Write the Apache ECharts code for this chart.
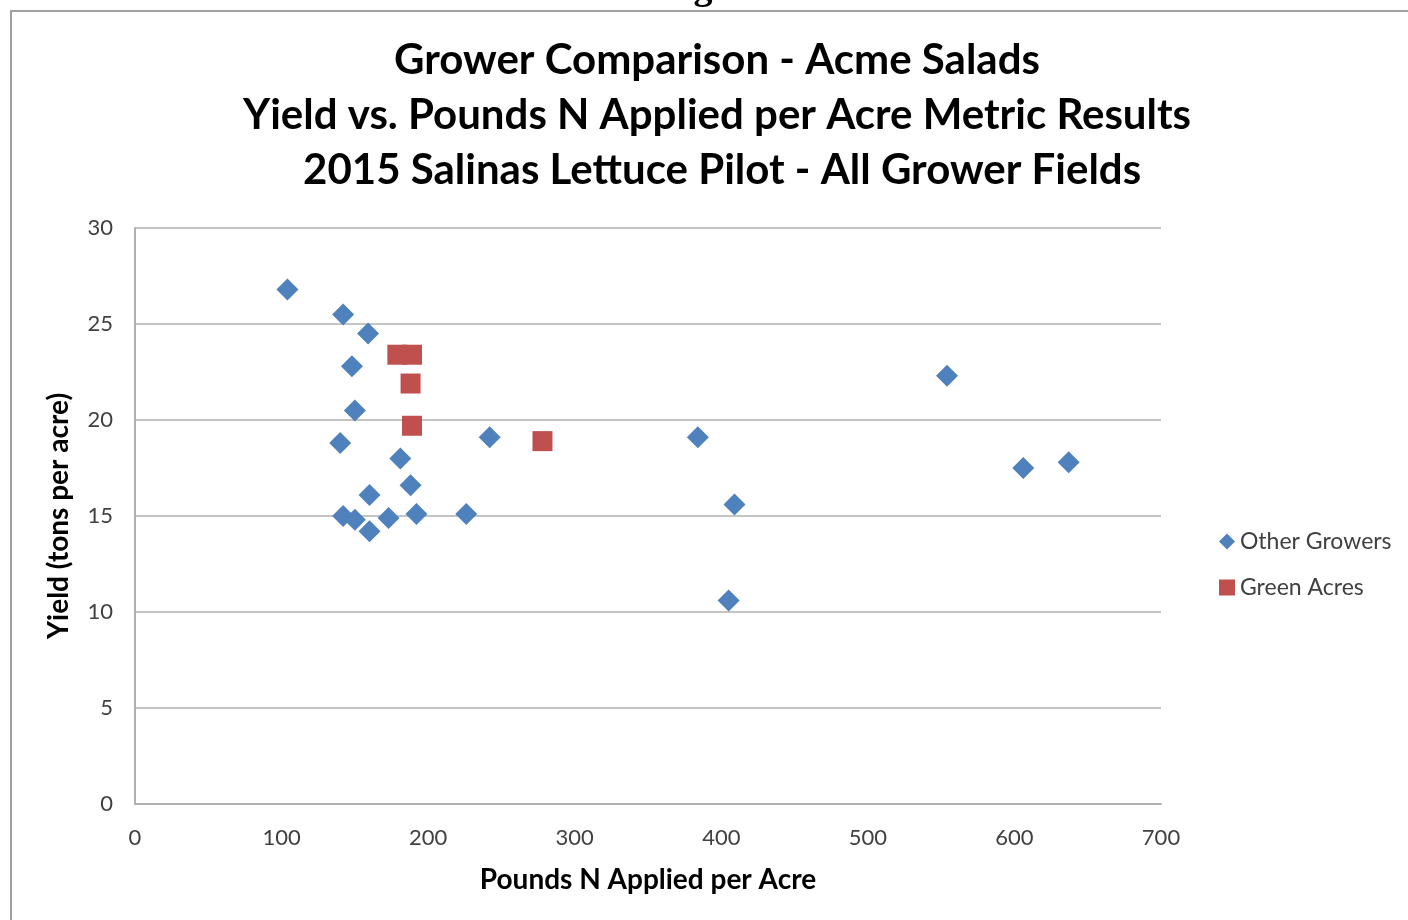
<!DOCTYPE html>
<html>
<head>
<meta charset="utf-8">
<script src="https://cdn.jsdelivr.net/npm/echarts@6/dist/echarts.min.js"></script>
<style>
html,body{margin:0;padding:0;background:#fff;}
#chart{width:1408px;height:920px;}
</style>
</head>
<body>
<div id="chart"></div>
<script>
const titleLines = [
  'Grower Comparison - Acme Salads',
  'Yield vs. Pounds N Applied per Acre Metric Results',
  ' 2015 Salinas Lettuce Pilot - All Grower Fields'
];
const seriesNames = ['Other Growers', 'Green Acres'];
const otherN = [104, 142, 159, 148, 150, 140, 181, 188, 160, 142, 150, 173, 192, 160, 226, 242, 384, 409, 405, 554, 606, 637];
const otherYield = [26.8, 25.5, 24.5, 22.8, 20.5, 18.8, 18.0, 16.6, 16.1, 15.0, 14.8, 14.9, 15.1, 14.2, 15.1, 19.1, 19.1, 15.6, 10.6, 22.3, 17.5, 17.8];
const greenN = [179, 189, 188, 189, 278];
const greenYield = [23.4, 23.4, 21.9, 19.7, 18.9];
const xTitle = 'Pounds N Applied per Acre';
const yTitle = 'Yield (tons per acre)';

const font = 'Lato, "Open Sans", sans-serif';
const pair = (xs, ys) => xs.map((x, i) => [x, ys[i]]);

const chart = echarts.init(document.getElementById('chart'), null, {renderer: 'canvas'});
chart.setOption({
  animation: false,
  backgroundColor: '#ffffff',
  title: {
    text: titleLines.join('\n'),
    left: 712, top: 28, textAlign: 'center',
    textStyle: {fontFamily: font, fontWeight: 'bold', fontSize: 42, lineHeight: 55, color: '#000'}
  },
  graphic: [
    {type: 'rect', shape: {x: 11, y: 11, width: 1500, height: 1000}, style: {fill: 'none', stroke: '#a0a0a0', lineWidth: 2}},
    {type: 'text', x: 703, y: 8, style: {text: 'g', font: 'bold 38px "Liberation Serif", serif', fill: '#000', align: 'center', verticalAlign: 'bottom'}}
  ],
  legend: {
    orient: 'vertical', left: 1214, top: 525, itemGap: 23, itemWidth: 16, itemHeight: 16,
    textStyle: {fontFamily: font, fontSize: 23, color: '#404040', padding: [0, 0, 0, 0]},
    data: [{name: seriesNames[0], icon: 'diamond'}, {name: seriesNames[1], icon: 'rect'}]
  },
  grid: {left: 135, right: 247, top: 228, bottom: 116, containLabel: false},
  xAxis: {
    type: 'value', min: 0, max: 700, interval: 100,
    name: xTitle, nameLocation: 'middle', nameGap: 62,
    nameTextStyle: {fontFamily: font, fontWeight: 'bold', fontSize: 28, color: '#000'},
    axisLine: {show: true, lineStyle: {color: '#b0b0b0', width: 2}},
    axisTick: {show: false},
    axisLabel: {fontFamily: font, fontSize: 22, color: '#404040', margin: 23},
    splitLine: {show: false}
  },
  yAxis: {
    type: 'value', min: 0, max: 30, interval: 5,
    name: yTitle, nameLocation: 'middle', nameGap: 62, nameRotate: 90,
    nameTextStyle: {fontFamily: font, fontWeight: 'bold', fontSize: 28, color: '#000'},
    axisLine: {show: true, lineStyle: {color: '#b0b0b0', width: 2}},
    axisTick: {show: false},
    axisLabel: {fontFamily: font, fontSize: 22, color: '#404040', margin: 22},
    splitLine: {show: true, lineStyle: {color: '#b0b0b0', width: 1.5}}
  },
  series: [
    {name: seriesNames[0], type: 'scatter', symbol: 'diamond', symbolSize: 22,
     itemStyle: {color: '#4F81BD', opacity: 1}, data: pair(otherN, otherYield), z: 3},
    {name: seriesNames[1], type: 'scatter', symbol: 'rect', symbolSize: 20,
     itemStyle: {color: '#C0504D', opacity: 1}, data: pair(greenN, greenYield), z: 4}
  ]
});
</script>
</body>
</html>
